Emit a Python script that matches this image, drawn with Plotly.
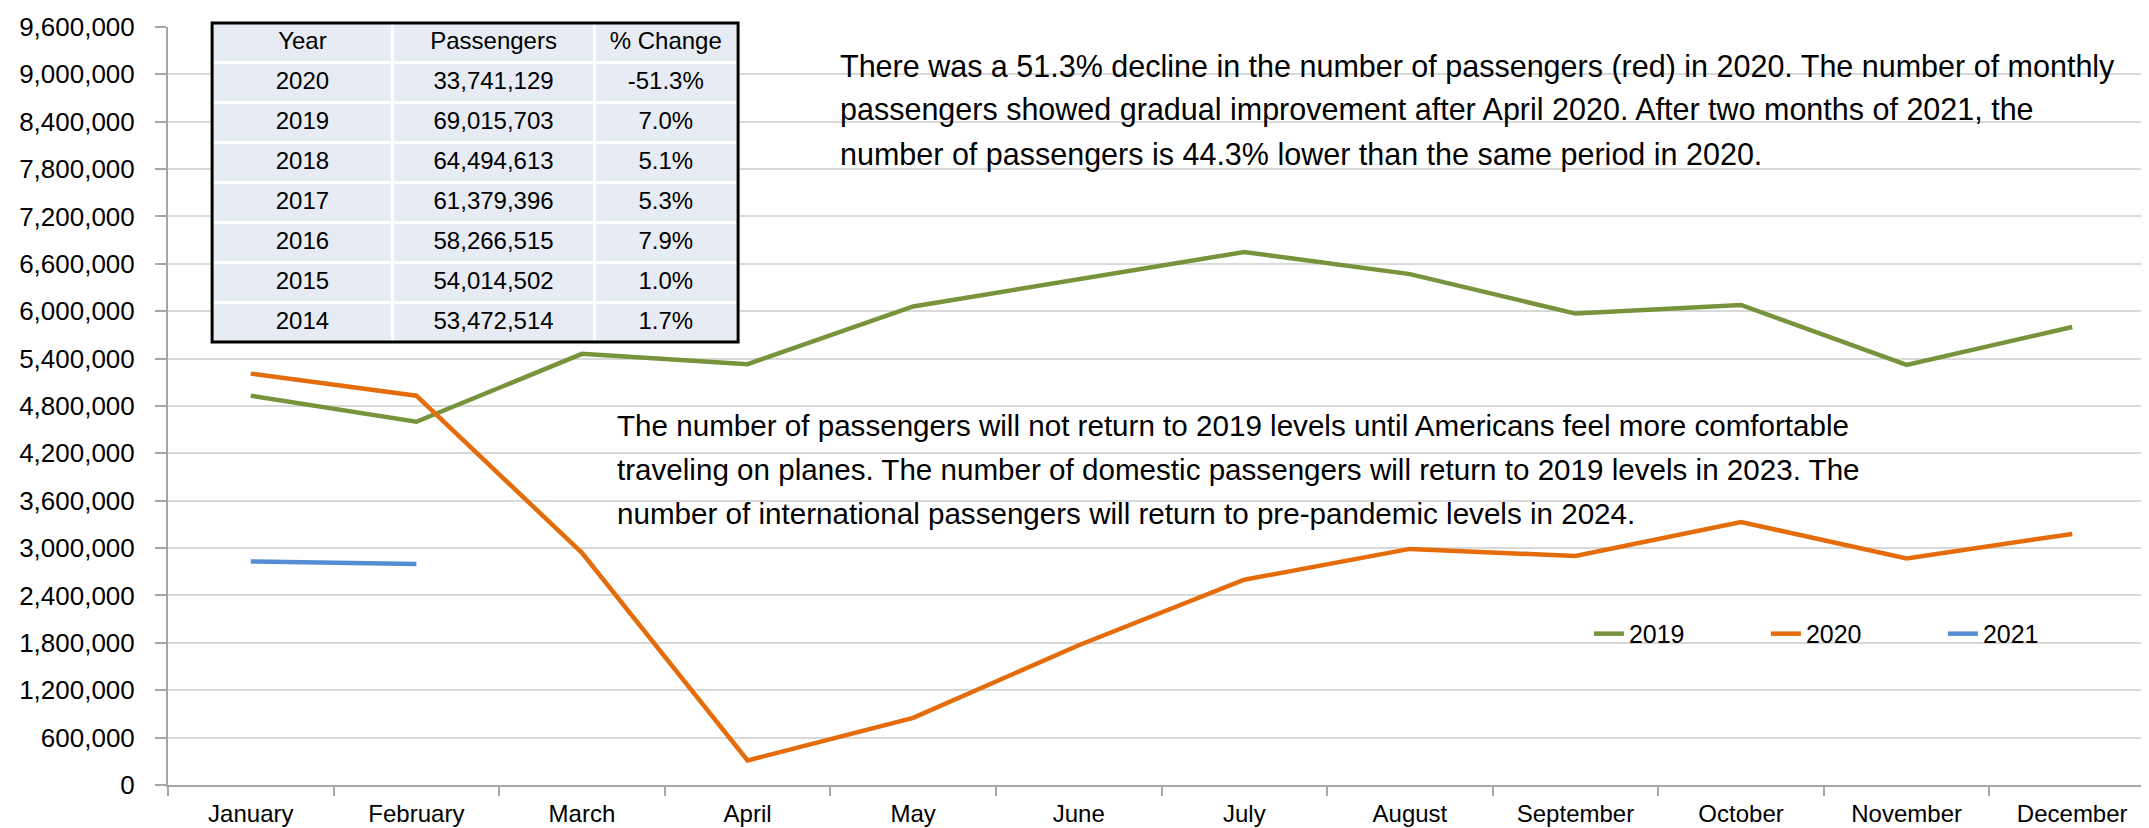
import plotly.graph_objects as go

FONT = "Liberation Sans, Arial, sans-serif"

months = ["January", "February", "March", "April", "May", "June", "July",
          "August", "September", "October", "November", "December"]

pax_2019 = [4930000, 4600000, 5460000, 5330000, 6060000, 6410000,
            6750000, 6470000, 5970000, 6080000, 5320000, 5800000]
pax_2020 = [5210000, 4930000, 2940000, 310000, 850000, 1770000,
            2600000, 2990000, 2900000, 3330000, 2870000, 3180000]
pax_2021 = [2830000, 2800000]

table_years = ["2020", "2019", "2018", "2017", "2016", "2015", "2014"]
table_passengers = ["33,741,129", "69,015,703", "64,494,613", "61,379,396",
                    "58,266,515", "54,014,502", "53,472,514"]
table_change = ["-51.3%", "7.0%", "5.1%", "5.3%", "7.9%", "1.0%", "1.7%"]

note_top = [
    "There was a 51.3% decline in the number of passengers (red) in 2020. The number of monthly",
    "passengers showed gradual improvement after April 2020. After two months of 2021, the",
    "number of passengers is 44.3% lower than the same period in 2020.",
]
note_mid = [
    "The number of passengers will not return to 2019 levels until Americans feel more comfortable",
    "traveling on planes. The number of domestic passengers will return to 2019 levels in 2023. The",
    "number of international passengers will return to pre-pandemic levels in 2024.",
]

series = [("2019", pax_2019, "#77933C"),
          ("2020", pax_2020, "#E46C0A"),
          ("2021", pax_2021, "#558ED5")]

fig = go.Figure()
for name, vals, color in series:
    fig.add_trace(go.Scatter(
        x=months[:len(vals)], y=vals, mode="lines", name=name,
        line=dict(color=color, width=4.5),
    ))

# summary table in the upper left corner
tbl_x = [0.0222, 0.2869]
tbl_y = [0.5776, 0.9935]
fig.add_trace(go.Table(
    domain=dict(x=tbl_x, y=tbl_y),
    columnwidth=[181, 202, 143],
    header=dict(values=["Year", "Passengers", "% Change"],
                fill_color="#E7EBF3", line=dict(color="white", width=3),
                font=dict(family=FONT, size=24, color="black"),
                align="center", height=40),
    cells=dict(values=[table_years, table_passengers, table_change],
               fill_color="#E7EBF3", line=dict(color="white", width=3),
               font=dict(family=FONT, size=24, color="black"),
               align="center", height=40),
))
fig.add_shape(type="rect", xref="paper", yref="paper",
              x0=tbl_x[0], x1=tbl_x[1], y0=tbl_y[0], y1=tbl_y[1],
              line=dict(color="black", width=3))

# text notes, one annotation per line to keep the original line spacing
px_h = 767.0
for i, line in enumerate(note_top):
    fig.add_annotation(text=line, xref="paper", yref="paper",
                       x=0.3372, y=(777 - 58 - 44 * i) / px_h,
                       xanchor="left", yanchor="middle", align="left",
                       showarrow=False,
                       font=dict(family=FONT, size=30.5, color="black"))
for i, line in enumerate(note_mid):
    fig.add_annotation(text=line, xref="paper", yref="paper",
                       x=0.2250, y=(777 - 417.5 - 44 * i) / px_h,
                       xanchor="left", yanchor="middle", align="left",
                       showarrow=False,
                       font=dict(family=FONT, size=29.6, color="black"))

fig.update_layout(
    width=2149, height=828,
    margin=dict(l=160, r=2, t=10, b=51),
    paper_bgcolor="white", plot_bgcolor="white",
    font=dict(family=FONT, color="black"),
    hovermode=False,
    legend=dict(orientation="h", x=0.7151, y=0.197, xanchor="left",
                yanchor="middle", font=dict(family=FONT, size=25),
                bgcolor="rgba(0,0,0,0)", entrywidth=132,
                entrywidthmode="pixels"),
    xaxis=dict(type="category", range=[-0.5, 11.5], showgrid=False,
               showline=True, linecolor="#A6A6A6", linewidth=2,
               ticks="outside", tickson="boundaries", ticklen=9,
               tickcolor="#A6A6A6", tickwidth=2, tickfont=dict(size=24),
               ticklabelstandoff=6, automargin=False),
    yaxis=dict(domain=[0, 0.9883], range=[0, 9600000], dtick=600000,
               tickformat=",d", showgrid=True, gridcolor="#D9D9D9",
               gridwidth=2, showline=True, linecolor="#A6A6A6",
               linewidth=2, ticks="outside", ticklen=11,
               tickcolor="#A6A6A6", tickwidth=2, zeroline=False,
               tickfont=dict(size=26), ticklabelstandoff=15,
               automargin=False),
)

fig.write_html("out.html")
